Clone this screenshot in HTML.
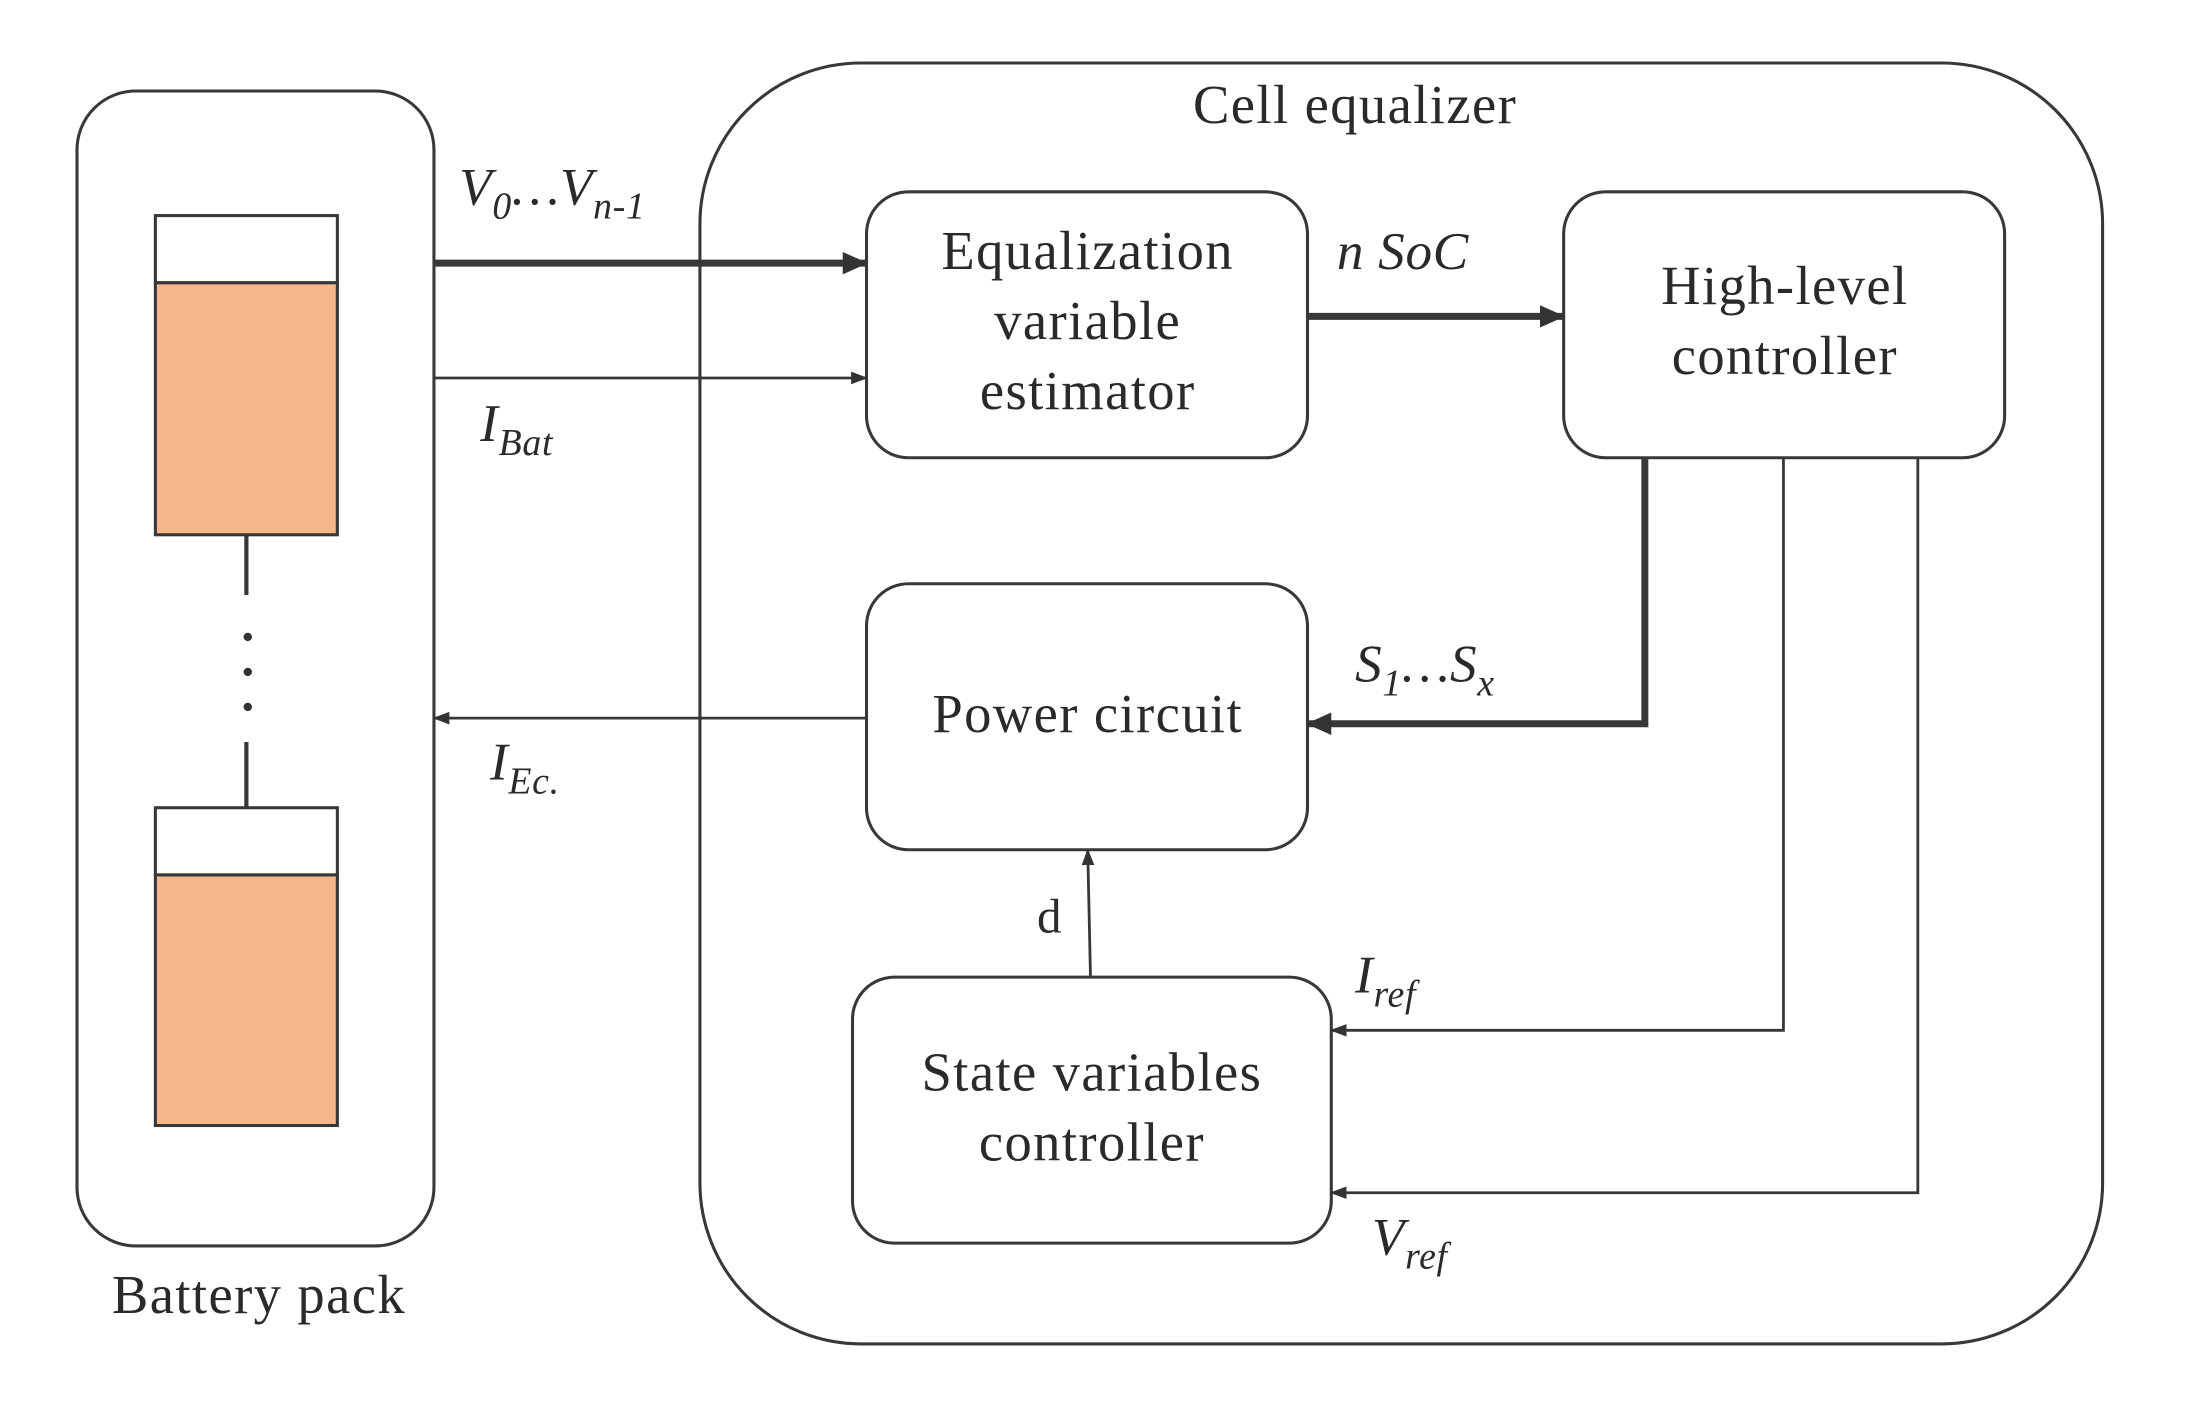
<!DOCTYPE html>
<html><head><meta charset="utf-8"><style>
html,body{margin:0;padding:0;background:#fff;}
svg{display:block;}
text{font-family:"Liberation Serif",serif;fill:#2a2a2a;}
.i{font-style:italic;}
</style></head><body>
<svg width="2195" height="1416" viewBox="0 0 1568 1011.5" preserveAspectRatio="none" xmlns="http://www.w3.org/2000/svg">
<defs>
<marker id="a" markerWidth="12" markerHeight="9" refX="11" refY="4.5" orient="auto" markerUnits="userSpaceOnUse"><path d="M0,0 L12,4.5 L0,9 z" fill="#333"/></marker>
<marker id="b" markerWidth="18" markerHeight="16" refX="17" refY="8" orient="auto" markerUnits="userSpaceOnUse"><path d="M0,0 L18,8 L0,16 z" fill="#333"/></marker>
</defs>
<g fill="none" stroke="#383838" stroke-width="2.2">
<rect x="55" y="65" width="255" height="825" rx="42"/>
<rect x="500" y="45" width="1002" height="915" rx="115"/>
<rect x="619" y="137" width="315" height="190" rx="30"/>
<rect x="1117" y="137" width="315" height="190" rx="30"/>
<rect x="619" y="417" width="315" height="190" rx="30"/>
<rect x="609" y="698" width="342" height="190" rx="30"/>
</g>
<g stroke="#383838" stroke-width="2.2">
<rect x="111" y="154" width="130" height="48" fill="#fff"/>
<rect x="111" y="202" width="130" height="180" fill="#F5B68A"/>
<rect x="111" y="577" width="130" height="48" fill="#fff"/>
<rect x="111" y="625" width="130" height="179" fill="#F5B68A"/>
<line x1="176" y1="382" x2="176" y2="425" stroke-width="3"/>
<line x1="176" y1="530" x2="176" y2="577" stroke-width="3"/>
</g>
<circle cx="177" cy="455" r="3" fill="#333"/><circle cx="177" cy="480" r="3" fill="#333"/><circle cx="177" cy="505" r="3" fill="#333"/>
<g fill="none" stroke="#383838">
<line x1="310" y1="188" x2="619" y2="188" stroke-width="5" marker-end="url(#b)"/>
<line x1="310" y1="270" x2="619" y2="270" stroke-width="2" marker-end="url(#a)"/>
<line x1="934" y1="226" x2="1117" y2="226" stroke-width="5" marker-end="url(#b)"/>
<polyline points="1175,327 1175,517 934,517" stroke-width="5" marker-end="url(#b)"/>
<polyline points="1274,327 1274,736 951,736" stroke-width="2" marker-end="url(#a)"/>
<polyline points="1370,327 1370,852 951,852" stroke-width="2" marker-end="url(#a)"/>
<line x1="619" y1="513" x2="310" y2="513" stroke-width="2" marker-end="url(#a)"/>
<line x1="779" y1="698" x2="777" y2="607" stroke-width="2" marker-end="url(#a)"/>
</g>
<g font-size="39" text-anchor="middle" letter-spacing="1">
<text x="968" y="88">Cell equalizer</text>
<text x="185" y="938">Battery pack</text>
<text x="777" y="192">Equalization</text>
<text x="777" y="242">variable</text>
<text x="777" y="292">estimator</text>
<text x="1275" y="217">High-level</text>
<text x="1275" y="267">controller</text>
<text x="777" y="523">Power circuit</text>
<text x="780" y="779">State variables</text>
<text x="780" y="829">controller</text>
<text x="750" y="666" font-size="35">d</text>
</g>
<g font-size="38" class="i" letter-spacing="0.5">
<text x="328" y="146" class="i">V<tspan font-size="27" dy="10">0</tspan><tspan dy="-10">…V</tspan><tspan font-size="27" dy="10">n-1</tspan></text>
<text x="343" y="315" class="i">I<tspan font-size="27" dy="10">Bat</tspan></text>
<text x="350" y="557" class="i">I<tspan font-size="27" dy="10">Ec.</tspan></text>
<text x="955" y="192" class="i">n SoC</text>
<text x="968" y="487" class="i">S<tspan font-size="27" dy="10">1</tspan><tspan dy="-10">…S</tspan><tspan font-size="27" dy="10">x</tspan></text>
<text x="968" y="709" class="i">I<tspan font-size="27" dy="10">ref</tspan></text>
<text x="980" y="896" class="i">V<tspan font-size="27" dy="10">ref</tspan></text>
</g>
</svg>
</body></html>
